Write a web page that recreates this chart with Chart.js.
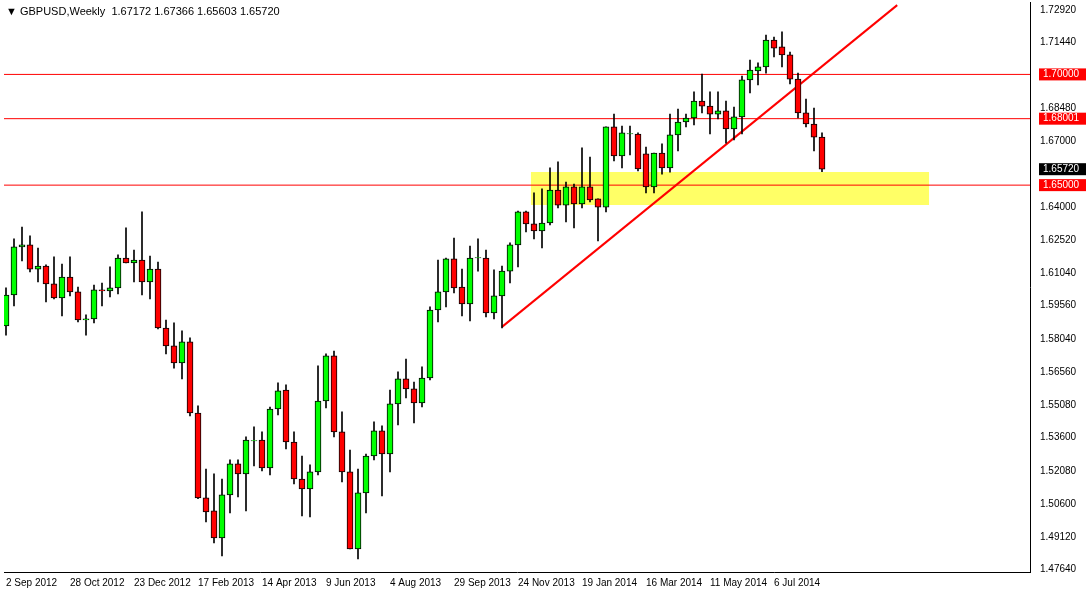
<!DOCTYPE html>
<html>
<head>
<meta charset="utf-8">
<script src="https://cdn.jsdelivr.net/npm/chart.js@4.4.0/dist/chart.umd.min.js"></script>
<style>
  html, body { margin: 0; padding: 0; background: #fff; }
  #wrap { position: relative; width: 1088px; height: 593px; }
  #title { position: absolute; left: 6px; top: 5px; font: 11px "Liberation Sans", Arial, sans-serif; color: #000; }
</style>
</head>
<body>
<div id="wrap">
  <canvas id="c" width="1088" height="593"></canvas>
  <div id="title">&#9660; GBPUSD,Weekly&nbsp; 1.67172 1.67366 1.65603 1.65720</div>
</div>
<script>
// weekly GBPUSD candles, Sep 2012 .. Jul 2014
const opens = [1.5864,1.6004,1.6221,1.6230,1.6121,1.6135,1.6054,1.5991,1.6085,1.6018,
  1.5891,1.5896,1.6027,1.6022,1.6036,1.6171,1.6149,1.6162,1.6063,1.6121,
  1.5855,1.5774,1.5697,1.5792,1.5471,1.5088,1.5029,1.4907,1.5101,1.5241,
  1.5196,1.5345,1.5349,1.5223,1.5489,1.5575,1.5340,1.5173,1.5128,1.5205,
  1.5525,1.5729,1.5386,1.5205,1.4857,1.5110,1.5277,1.5390,1.5286,1.5512,
  1.5625,1.5580,1.5516,1.5629,1.5936,1.6018,1.6167,1.6040,1.5964,1.6171,
  1.6171,1.5923,1.6000,1.6112,1.6230,1.6379,1.6325,1.6293,1.6329,1.6478,
  1.6410,1.6492,1.6415,1.6492,1.6438,1.6401,1.6763,1.6632,1.6731,1.6731,
  1.6641,1.6492,1.6645,1.6578,1.6727,1.6785,1.6803,1.6880,1.6857,1.6821,
  1.6835,1.6754,1.6808,1.6975,1.7016,1.7034,1.7155,1.7124,1.7088,1.6979,
  1.6826,1.6776,1.67172];
const highs = [1.6036,1.6257,1.6311,1.6271,1.6216,1.6140,1.6176,1.6144,1.6176,1.6040,
  1.5914,1.6049,1.6058,1.6131,1.6185,1.6307,1.6207,1.6379,1.6180,1.6153,
  1.5891,1.5878,1.5842,1.5810,1.5503,1.5218,1.5196,1.5173,1.5259,1.5259,
  1.5363,1.5408,1.5386,1.5498,1.5607,1.5598,1.5386,1.5277,1.5237,1.5684,
  1.5738,1.5751,1.5476,1.5304,1.5218,1.5286,1.5431,1.5413,1.5575,1.5657,
  1.5715,1.5611,1.5679,1.5950,1.6162,1.6171,1.6261,1.6121,1.6225,1.6257,
  1.6207,1.6117,1.6135,1.6239,1.6383,1.6383,1.6465,1.6483,1.6578,1.6605,
  1.6514,1.6505,1.6668,1.6627,1.6438,1.6763,1.6821,1.6767,1.6767,1.6736,
  1.6672,1.6645,1.6686,1.6821,1.6844,1.6821,1.6921,1.7002,1.6921,1.6921,
  1.6880,1.6853,1.6993,1.7065,1.7052,1.7178,1.7169,1.7192,1.7101,1.7006,
  1.6889,1.6848,1.67366];
const lows = [1.5823,1.5955,1.6158,1.6108,1.6063,1.5973,1.5986,1.5909,1.6000,1.5882,
  1.5823,1.5878,1.5955,1.5995,1.6009,1.6149,1.6063,1.6004,1.5986,1.5851,
  1.5738,1.5674,1.5625,1.5458,1.5084,1.4979,1.4884,1.4826,1.5020,1.5092,
  1.5029,1.5232,1.5209,1.5191,1.5462,1.5309,1.5151,1.5006,1.5002,1.5191,
  1.5494,1.5363,1.5160,1.4857,1.4812,1.5020,1.5259,1.5097,1.5205,1.5417,
  1.5539,1.5426,1.5498,1.5620,1.5882,1.5950,1.6013,1.5909,1.5887,1.6112,
  1.5905,1.5896,1.5855,1.6058,1.6131,1.6289,1.6257,1.6216,1.6320,1.6397,
  1.6334,1.6307,1.6397,1.6424,1.6248,1.6379,1.6609,1.6578,1.6636,1.6564,
  1.6465,1.6465,1.6550,1.6559,1.6654,1.6763,1.6772,1.6826,1.6731,1.6799,
  1.6690,1.6704,1.6731,1.6916,1.6952,1.7006,1.7079,1.7034,1.6957,1.6803,
  1.6763,1.6654,1.65603];
const closes = [1.6004,1.6221,1.6230,1.6121,1.6135,1.6054,1.5991,1.6085,1.6018,1.5891,
  1.5896,1.6027,1.6022,1.6036,1.6171,1.6149,1.6162,1.6063,1.6121,1.5855,
  1.5774,1.5697,1.5792,1.5471,1.5088,1.5024,1.4907,1.5101,1.5241,1.5196,
  1.5349,1.5345,1.5223,1.5489,1.5571,1.5340,1.5173,1.5128,1.5205,1.5525,
  1.5729,1.5386,1.5205,1.4857,1.5110,1.5277,1.5390,1.5286,1.5512,1.5625,
  1.5580,1.5516,1.5629,1.5936,1.6018,1.6167,1.6036,1.5964,1.6171,1.6173,
  1.5923,1.6000,1.6112,1.6230,1.6379,1.6325,1.6293,1.6329,1.6478,1.6410,
  1.6492,1.6415,1.6492,1.6433,1.6401,1.6763,1.6632,1.6736,1.6733,1.6573,
  1.6492,1.6645,1.6578,1.6727,1.6785,1.6803,1.6880,1.6857,1.6821,1.6835,
  1.6754,1.6808,1.6975,1.7020,1.7034,1.7155,1.7119,1.7088,1.6979,1.6826,
  1.6776,1.6717,1.65720];

const dateLabels = ['2 Sep 2012','28 Oct 2012','23 Dec 2012','17 Feb 2013','14 Apr 2013','9 Jun 2013',
  '4 Aug 2013','29 Sep 2013','24 Nov 2013','19 Jan 2014','16 Mar 2014','11 May 2014','6 Jul 2014'];
const dateIndex = [0,8,16,24,32,40,48,56,64,72,80,88,96];
const priceTicks = [1.72920,1.71440,1.70000,1.68480,1.67000,1.65720,1.64000,1.62520,1.61040,
  1.59560,1.58040,1.56560,1.55080,1.53600,1.52080,1.50600,1.49120,1.47640];

const levels = [1.70000, 1.68001, 1.65000];
const zoneTop = 1.6559, zoneBottom = 1.6410, zoneFrom = 65.6, zoneTo = 115.4;
const trendFrom = { x: 62, y: 1.5860 }, trendTo = { x: 111.4, y: 1.7313 };
const lastPrice = 1.65720;

const bull = [], bear = [], wicks = [];
opens.forEach((o, i) => {
  let c = closes[i];
  if (Math.abs(c - o) < 0.0002) c = o + (c >= o ? 0.0002 : -0.0002);
  wicks.push({ x: i, y: [lows[i], highs[i]] });
  (c >= o ? bull : bear).push({ x: i, y: [o, c] });
});

// red boxes on the price axis
const axisBoxes = {
  id: 'axisBoxes',
  afterDraw(chart) {
    const { ctx, scales: { y }, chartArea } = chart;
    ctx.save();
    ctx.font = '10px "Liberation Sans", Arial, sans-serif';
    ctx.textBaseline = 'middle';
    const box = (v, txt, bg) => {
      const py = y.getPixelForValue(v);
      ctx.fillStyle = bg;
      ctx.fillRect(chartArea.right + 9, py - 6, 47, 12);
      ctx.fillStyle = '#fff';
      ctx.fillText(txt, chartArea.right + 13, py);
    };
    box(1.70000, '1.70000', '#ff0000');
    box(1.68001, '1.68001', '#ff0000');
    box(1.65000, '1.65000', '#ff0000');
    box(lastPrice, '1.65720', '#000000');
    ctx.restore();
  }
};

const lineDs = (pts, color, width) => ({
  type: 'line', data: pts, borderColor: color, borderWidth: width,
  pointRadius: 0, fill: false, order: 5
});

new Chart(document.getElementById('c'), {
  type: 'bar',
  data: {
    datasets: [
      { type: 'line', data: [{ x: zoneFrom, y: zoneTop }, { x: zoneTo, y: zoneTop }], borderWidth: 0,
        pointRadius: 0, fill: '+1', backgroundColor: '#ffff66', order: 10 },
      { type: 'line', data: [{ x: zoneFrom, y: zoneBottom }, { x: zoneTo, y: zoneBottom }], borderWidth: 0,
        pointRadius: 0, fill: false, order: 10 },
      ...levels.map(l => lineDs([{ x: -1, y: l }, { x: 130, y: l }], '#ff0000', 1)),
      lineDs([trendFrom, trendTo], '#ff0000', 2),
      { data: wicks, backgroundColor: '#000', barThickness: 1, grouped: false, order: 2 },
      { data: bull, backgroundColor: '#00ff00', borderColor: '#000', borderWidth: 1,
        borderSkipped: false, barThickness: 6, grouped: false, order: 1 },
      { data: bear, backgroundColor: '#ff0000', borderColor: '#000', borderWidth: 1,
        borderSkipped: false, barThickness: 6, grouped: false, order: 1 }
    ]
  },
  options: {
    responsive: false, animation: false,
    layout: { padding: { left: 4, top: 2, right: 2, bottom: 0 } },
    plugins: { legend: { display: false }, tooltip: { enabled: false } },
    scales: {
      x: {
        type: 'linear', min: -0.25, max: 128, offset: false,
        grid: { display: false, drawTicks: true, tickLength: 4 },
        border: { color: '#000' },
        afterBuildTicks: s => { s.ticks = dateIndex.map(v => ({ value: v })); },
        afterFit: s => { s.height = 21; s.paddingLeft = 0; s.paddingRight = 0; },
        ticks: {
          autoSkip: false, maxRotation: 0, align: 'start', padding: 1,
          font: { family: 'Liberation Sans', size: 10 }, color: '#000',
          callback: v => dateLabels[dateIndex.indexOf(v)]
        }
      },
      y: {
        position: 'right', min: 1.4753, max: 1.7327,
        grid: { display: false, drawTicks: true, tickLength: 4 },
        border: { color: '#000' },
        afterBuildTicks: s => { s.ticks = priceTicks.map(v => ({ value: v })); },
        afterFit: s => { s.width = 56; s.paddingTop = 0; s.paddingBottom = 0; },
        ticks: {
          autoSkip: false, padding: 6,
          font: { family: 'Liberation Sans', size: 10 }, color: '#000',
          callback: v => v.toFixed(5)
        }
      }
    }
  },
  plugins: [axisBoxes]
});
</script>
</body>
</html>
